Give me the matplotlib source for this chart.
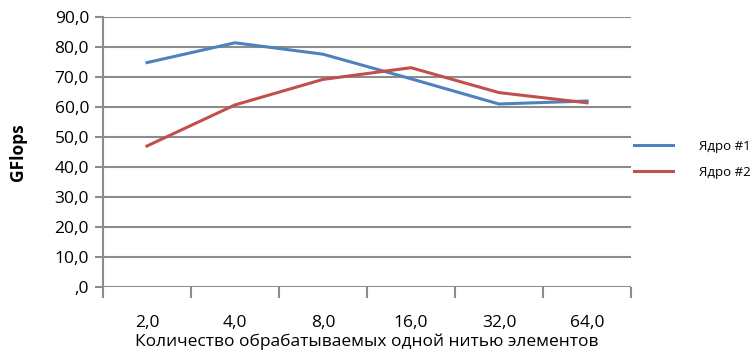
import numpy as np
from matplotlib import pyplot as plt

# Data
categories = ['2,0', '4,0', '8,0', '16,0', '32,0', '64,0']
core1 = [74.8, 81.4, 77.6, 69.4, 61.0, 62.0]
core2 = [47.0, 60.7, 69.2, 73.1, 64.8, 61.4]
yticks = [0, 10, 20, 30, 40, 50, 60, 70, 80, 90]
ytick_labels = [',0', '10,0', '20,0', '30,0', '40,0', '50,0', '60,0', '70,0', '80,0', '90,0']

plt.rcParams['font.family'] = ['Open Sans', 'DejaVu Sans']

fig = plt.figure(figsize=(7.54, 3.54), dpi=100)
ax = fig.add_axes([103 / 754, 1 - 287 / 354, 528 / 754, 270 / 354])

x = np.arange(len(categories))
line1, = ax.plot(x, core1, color='#4F81BD', lw=2.2, label='Ядро #1')
line2, = ax.plot(x, core2, color='#C0504D', lw=2.2, label='Ядро #2')

ax.set_xlim(-0.5, len(categories) - 0.5)
ax.set_ylim(0, 90)
ax.set_yticks(yticks)
ax.set_yticklabels(ytick_labels, fontsize=12.5)
ax.set_xticks(x)
ax.set_xticklabels(categories, fontsize=12.5)
ax.set_xticks(np.arange(len(categories) + 1) - 0.5, minor=True)

ax.grid(axis='y', color='#8c8c8c', lw=1.5)
ax.set_axisbelow(True)
for side in ['top', 'right', 'bottom']:
    ax.spines[side].set_visible(False)
ax.spines['left'].set_color('#8c8c8c')
ax.spines['left'].set_linewidth(1.5)
ax.tick_params(axis='y', length=6, color='#8c8c8c', width=1.5, pad=4)
ax.tick_params(axis='x', which='major', length=0, pad=20)
ax.tick_params(axis='x', which='minor', length=8, color='#8c8c8c', width=1.5, direction='out')

ax.set_xlabel('Количество обрабатываемых одной нитью элементов', fontsize=12.5, labelpad=2)
ax.set_ylabel('GFlops', fontsize=12.5, fontweight='bold', labelpad=20)

fig.legend(handles=[line1, line2], loc='upper left', bbox_to_anchor=(622 / 754, 1 - 128 / 354),
           frameon=False, fontsize=9.5, handlelength=3.0, handletextpad=1.9, labelspacing=1.0)

plt.savefig('out.png', dpi=100)
